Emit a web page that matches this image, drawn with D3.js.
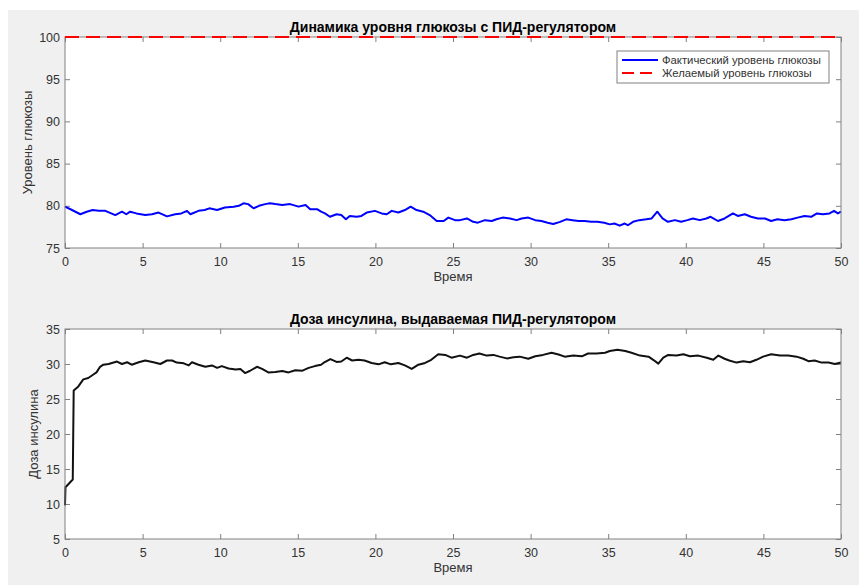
<!DOCTYPE html>
<html>
<head>
<meta charset="utf-8">
<script src="https://cdn.jsdelivr.net/npm/d3@7"></script>
<style>
  body { margin: 0; background: #fff; }
  text { font-family: "Liberation Sans", Arial, sans-serif; }
</style>
</head>
<body>
<svg id="fig" width="859" height="585"></svg>
<script>
// glucose (time, mg/dl)
var glucoseTime = [0, 0.45, 0.99, 1.4, 1.78, 2.17, 2.6, 3.24, 3.67, 3.95, 4.2, 4.6, 5.17, 5.6, 6.03, 6.57, 7.1, 7.5, 7.86, 8.08,
  8.6, 9.0, 9.3, 9.8, 10.3, 10.87, 11.2, 11.5, 11.8, 12.15, 12.5, 12.9, 13.2, 13.55, 14.0, 14.5, 15.05, 15.5, 15.8, 16.24,
  16.5, 16.75, 17.07, 17.5, 17.8, 18.1, 18.35, 18.8, 19.1, 19.44, 19.97, 20.4, 20.73, 21.05, 21.48, 21.9, 22.27, 22.65, 23.08, 23.5,
  23.95, 24.4, 24.7, 25.13, 25.45, 25.9, 26.3, 26.6, 27.06, 27.5, 27.8, 28.2, 28.67, 29.1, 29.42, 29.85, 30.3, 30.7, 31.1, 31.46,
  31.9, 32.3, 32.7, 33.1, 33.48, 33.9, 34.3, 34.75, 35.1, 35.4, 35.74, 36.06, 36.27, 36.6, 37.0, 37.45, 37.8, 38.16, 38.5, 38.85,
  39.3, 39.7, 40.1, 40.46, 40.9, 41.32, 41.6, 42.07, 42.5, 43.04, 43.35, 43.8, 44.2, 44.65, 45.1, 45.5, 45.9, 46.37, 46.8, 47.2,
  47.65, 48.08, 48.45, 48.83, 49.26, 49.55, 49.8, 50];
var glucoseLevel = [79.9, 79.5, 79.0, 79.3, 79.5, 79.4, 79.4, 78.9, 79.3, 79.0, 79.3, 79.1, 78.9, 79.0, 79.2, 78.75, 79.0, 79.1, 79.4, 79.0,
  79.4, 79.5, 79.7, 79.5, 79.8, 79.9, 80.0, 80.3, 80.2, 79.7, 80.0, 80.2, 80.3, 80.2, 80.1, 80.2, 79.9, 80.1, 79.6, 79.6,
  79.3, 79.1, 78.7, 79.0, 78.9, 78.4, 78.8, 78.7, 78.8, 79.2, 79.4, 79.1, 79.0, 79.4, 79.2, 79.5, 79.9, 79.5, 79.3, 78.9,
  78.2, 78.2, 78.6, 78.3, 78.3, 78.5, 78.1, 78.0, 78.3, 78.2, 78.4, 78.6, 78.5, 78.3, 78.5, 78.6, 78.3, 78.2, 78.0, 77.85,
  78.1, 78.4, 78.3, 78.2, 78.2, 78.1, 78.1, 78.0, 77.8, 77.9, 77.65, 77.9, 77.7, 78.1, 78.3, 78.4, 78.5, 79.3, 78.5, 78.1,
  78.3, 78.1, 78.3, 78.5, 78.3, 78.5, 78.7, 78.2, 78.5, 79.1, 78.8, 79.0, 78.7, 78.5, 78.5, 78.2, 78.4, 78.3, 78.4, 78.6,
  78.8, 78.7, 79.1, 79.0, 79.1, 79.4, 79.1, 79.3];
var targetGlucose = 100;

// insulin dose
var insulinTime = [0, 0.03, 0.5, 0.56, 0.86, 1.18, 1.5, 1.83, 2.03, 2.26, 2.47, 2.81, 3.35, 3.67, 4.0, 4.3, 4.75, 5.17, 5.7, 6.14,
  6.57, 6.9, 7.2, 7.65, 7.97, 8.18, 8.6, 9.04, 9.47, 9.8, 10.1, 10.54, 11.0, 11.3, 11.6, 11.9, 12.37, 12.7, 13.1, 13.55,
  14.0, 14.4, 14.84, 15.3, 15.7, 16.1, 16.5, 16.65, 17.1, 17.5, 17.8, 18.15, 18.5, 18.9, 19.3, 19.76, 20.2, 20.6, 21.0, 21.48,
  21.9, 22.34, 22.77, 23.2, 23.6, 24.05, 24.5, 24.9, 25.45, 25.9, 26.3, 26.7, 27.17, 27.6, 28.0, 28.47, 28.9, 29.3, 29.85, 30.3,
  30.8, 31.35, 31.8, 32.2, 32.75, 33.3, 33.7, 34.25, 34.8, 35.1, 35.6, 36.1, 36.5, 37.05, 37.6, 37.9, 38.23, 38.55, 38.87, 39.4,
  39.84, 40.27, 40.8, 41.35, 41.77, 42.1, 42.5, 42.8, 43.27, 43.7, 44.13, 44.55, 44.98, 45.5, 46.07, 46.6, 47.14, 47.57, 47.9, 48.3,
  48.75, 49.2, 49.6, 50];
var insulinDose = [9.8, 12.4, 13.5, 26.2, 26.8, 27.8, 28.0, 28.5, 28.8, 29.6, 29.9, 30.0, 30.35, 30.0, 30.25, 29.9, 30.25, 30.5, 30.25, 30.0,
  30.5, 30.5, 30.2, 30.1, 29.8, 30.25, 29.9, 29.6, 29.8, 29.45, 29.7, 29.35, 29.2, 29.3, 28.7, 29.0, 29.6, 29.3, 28.8, 28.85,
  29.0, 28.8, 29.1, 29.05, 29.45, 29.7, 29.9, 30.15, 30.7, 30.3, 30.35, 30.9, 30.5, 30.6, 30.5, 30.15, 29.95, 30.25, 29.95, 30.15,
  29.8, 29.3, 29.9, 30.15, 30.6, 31.4, 31.3, 30.9, 31.2, 30.9, 31.3, 31.5, 31.2, 31.3, 31.05, 30.8, 30.95, 31.05, 30.75, 31.1,
  31.3, 31.6, 31.35, 31.05, 31.2, 31.1, 31.5, 31.5, 31.6, 31.85, 32.05, 31.85, 31.6, 31.2, 31.05, 30.6, 30.05, 30.9, 31.3, 31.2,
  31.4, 31.1, 31.2, 30.9, 30.6, 31.2, 30.75, 30.5, 30.2, 30.4, 30.25, 30.6, 31.05, 31.4, 31.2, 31.2, 31.05, 30.75, 30.4, 30.5,
  30.2, 30.2, 30.0, 30.2];

var timeTicks = [0, 5, 10, 15, 20, 25, 30, 35, 40, 45, 50];
var glucoseTicks = [75, 80, 85, 90, 95, 100];
var insulinTicks = [5, 10, 15, 20, 25, 30, 35];
var legendLabels = ['Фактический уровень глюкозы', 'Желаемый уровень глюкозы'];

var svg = d3.select('#fig');
var axisGrey = '#808080', labelInk = '#333';

// MATLAB-ish grey figure area
svg.append('rect')
  .attr('x', 8).attr('y', 10)
  .attr('width', 851).attr('height', 575)
  .attr('fill', '#f0f0f0');

var left = 65, right = 841;
var x = d3.scaleLinear().domain([0, 50]).range([left, right]);

function drawPanel(top, bottom, yDomain, yTicks, title, yLabel, yLabelX) {
  var y = d3.scaleLinear().domain(yDomain).range([bottom, top]);
  var g = svg.append('g');

  g.append('rect')
    .attr('x', left).attr('y', top)
    .attr('width', right - left).attr('height', bottom - top)
    .attr('fill', '#fff');

  // ticks, inward on all four sides
  var xb = g.append('g').attr('transform', 'translate(0,' + bottom + ')')
    .call(d3.axisBottom(x).tickValues(timeTicks).tickSizeInner(-5).tickSizeOuter(0).tickPadding(9));
  var xt = g.append('g').attr('transform', 'translate(0,' + top + ')')
    .call(d3.axisTop(x).tickValues(timeTicks).tickSizeInner(-5).tickSizeOuter(0).tickFormat(''));
  var yl = g.append('g').attr('transform', 'translate(' + left + ',0)')
    .call(d3.axisLeft(y).tickValues(yTicks).tickSizeInner(-5).tickSizeOuter(0).tickPadding(5));
  var yr = g.append('g').attr('transform', 'translate(' + right + ',0)')
    .call(d3.axisRight(y).tickValues(yTicks).tickSizeInner(-5).tickSizeOuter(0).tickFormat(''));

  [xb, xt, yl, yr].forEach(function(a) {
    a.select('.domain').remove();
    a.selectAll('line').attr('stroke', axisGrey);
    a.selectAll('text').attr('fill', labelInk).style('font-size', '12.5px');
  });

  g.append('text')
    .attr('x', (left + right) / 2).attr('y', top - 5)
    .attr('text-anchor', 'middle')
    .style('font-size', '14px').style('font-weight', 'bold')
    .attr('fill', '#000')
    .text(title);

  g.append('text')
    .attr('x', (left + right) / 2).attr('y', bottom + 33)
    .attr('text-anchor', 'middle')
    .style('font-size', '13px')
    .attr('fill', labelInk)
    .text('Время');

  g.append('text')
    .attr('transform', 'translate(' + yLabelX + ',' + ((top + bottom) / 2) + ') rotate(-90)')
    .attr('text-anchor', 'middle')
    .style('font-size', '13px')
    .attr('fill', labelInk)
    .text(yLabel);

  return { g: g, y: y };
}

// TOP PANEL - glucose
var p1 = drawPanel(37, 248, [75, 100], glucoseTicks,
  'Динамика уровня глюкозы с ПИД-регулятором', 'Уровень глюкозы', 32);

var glucoseLine = d3.line()
  .x(function(d, i) { return x(glucoseTime[i]); })
  .y(function(d) { return p1.y(d); });

p1.g.append('path')
  .datum(glucoseLevel)
  .attr('d', glucoseLine)
  .attr('fill', 'none')
  .attr('stroke', '#0000ff')
  .attr('stroke-width', 2)
  .attr('stroke-linejoin', 'round');

// box edges drawn before the target line so the dashes sit on top
p1.g.append('rect')
  .attr('x', left).attr('y', 37)
  .attr('width', right - left).attr('height', 211)
  .attr('fill', 'none').attr('stroke', axisGrey);
p1.g.append('line')
  .attr('x1', x(0)).attr('x2', x(50))
  .attr('y1', p1.y(targetGlucose)).attr('y2', p1.y(targetGlucose))
  .attr('stroke', '#ff0000')
  .attr('stroke-width', 2.2)
  .attr('stroke-dasharray', '14,7');

// LEGEND
var legend = svg.append('g').attr('transform', 'translate(617,51)');
legend.append('rect')
  .attr('width', 212).attr('height', 32)
  .attr('fill', '#fff').attr('stroke', axisGrey);
var legendStyles = [{ c: '#0000ff', dash: null }, { c: '#ff0000', dash: '12,6' }];
legend.selectAll('g.entry')
  .data(legendLabels)
  .enter().append('g')
    .attr('class', 'entry')
    .attr('transform', function(d, i) { return 'translate(0,' + (9 + i * 13) + ')'; })
    .each(function(d, i) {
      var e = d3.select(this);
      e.append('line')
        .attr('x1', 5).attr('x2', 41)
        .attr('stroke', legendStyles[i].c)
        .attr('stroke-width', 2)
        .attr('stroke-dasharray', legendStyles[i].dash);
      e.append('text')
        .attr('x', 45).attr('dy', '0.35em')
        .style('font-size', '11.3px')
        .attr('fill', labelInk)
        .text(d);
    });

// BOTTOM PANEL - insulin
var p2 = drawPanel(329, 539, [5, 35], insulinTicks,
  'Доза инсулина, выдаваемая ПИД-регулятором', 'Доза инсулина', 38);

var insulinLine = d3.line()
  .x(function(d, i) { return x(insulinTime[i]); })
  .y(function(d) { return p2.y(d); });

p2.g.append('path')
  .datum(insulinDose)
  .attr('d', insulinLine)
  .attr('fill', 'none')
  .attr('stroke', '#111')
  .attr('stroke-width', 2)
  .attr('stroke-linejoin', 'round');

p2.g.append('rect')
  .attr('x', left).attr('y', 329)
  .attr('width', right - left).attr('height', 210)
  .attr('fill', 'none').attr('stroke', axisGrey);
</script>
</body>
</html>
